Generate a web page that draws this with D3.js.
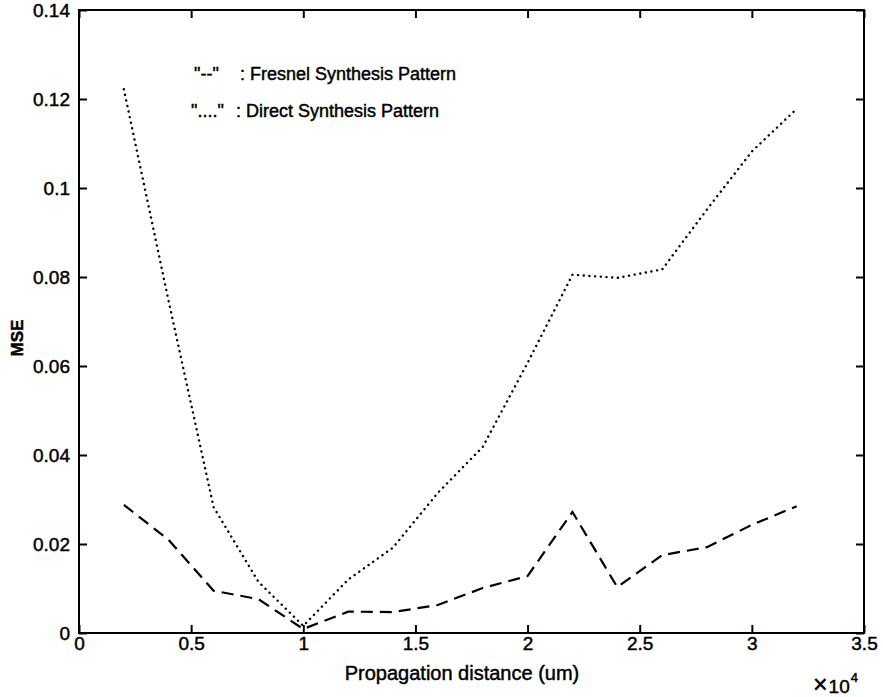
<!DOCTYPE html>
<html>
<head>
<meta charset="utf-8">
<script src="https://cdn.jsdelivr.net/npm/d3@7"></script>
<style>
  html, body { margin: 0; padding: 0; background: #fff; }
  text { font-family: "Liberation Sans", Arial, Helvetica, sans-serif; fill: #000; stroke: #000; stroke-width: 0.45px; }
</style>
</head>
<body>
<svg id="chart" width="883" height="697"></svg>
<script>
// Propagation distance (x 10^4 um)
const distance = [0.2, 0.4, 0.6, 0.8, 1.0, 1.2, 1.4, 1.6, 1.8, 2.0, 2.2, 2.4, 2.6, 2.8, 3.0, 3.2];
// "--" : Fresnel Synthesis Pattern
const fresnelMSE = [0.0288, 0.0209, 0.0095, 0.0076, 0.0009, 0.0048, 0.0047, 0.0063, 0.0101, 0.0128, 0.0272, 0.0103, 0.0175, 0.0193, 0.0243, 0.0285];
// "...." : Direct Synthesis Pattern
const directMSE = [0.1222, 0.0745, 0.0283, 0.0115, 0.0016, 0.0120, 0.0192, 0.0315, 0.0418, 0.0607, 0.0805, 0.0798, 0.0817, 0.0952, 0.1082, 0.1178];
const xTicks = [0, 0.5, 1, 1.5, 2, 2.5, 3, 3.5];
const yTicks = [0, 0.02, 0.04, 0.06, 0.08, 0.1, 0.12, 0.14];
const xTickLabels = ["0", "0.5", "1", "1.5", "2", "2.5", "3", "3.5"];
const yTickLabels = ["0", "0.02", "0.04", "0.06", "0.08", "0.1", "0.12", "0.14"];
const legendMarks = ['"--"', '"...."'];
const legendLabels = [": Fresnel Synthesis Pattern", ": Direct Synthesis Pattern"];

const svg = d3.select("#chart");
const L = 79, R = 864, T = 10, B = 633;
const x = d3.scaleLinear().domain([0, 3.5]).range([L, R]);
const y = d3.scaleLinear().domain([0, 0.14]).range([B, T]);
const fs = 19;

// Axes with inward ticks
const tickLen = 8;
svg.append("g").attr("transform", `translate(0,${B})`)
  .call(d3.axisBottom(x).tickValues(xTicks).tickSizeInner(-tickLen).tickSizeOuter(0).tickPadding(3)
    .tickFormat((d, i) => xTickLabels[i]));
svg.append("g").attr("transform", `translate(0,${T})`)
  .call(d3.axisTop(x).tickValues(xTicks).tickSizeInner(-tickLen).tickSizeOuter(0).tickFormat(""));
svg.append("g").attr("transform", `translate(${L},0)`)
  .call(d3.axisLeft(y).tickValues(yTicks).tickSizeInner(-tickLen).tickSizeOuter(0).tickPadding(9)
    .tickFormat((d, i) => yTickLabels[i]));
svg.append("g").attr("transform", `translate(${R},0)`)
  .call(d3.axisRight(y).tickValues(yTicks).tickSizeInner(-tickLen).tickSizeOuter(0).tickFormat(""));

svg.selectAll(".domain").remove();
svg.selectAll(".tick line").attr("stroke", "#000").attr("stroke-width", 2);
svg.selectAll(".tick text").attr("font-size", fs).attr("font-family", '"Liberation Sans", Arial, sans-serif');

// Frame
svg.append("rect").attr("x", L).attr("y", T).attr("width", R - L).attr("height", B - T)
  .attr("fill", "none").attr("stroke", "#000").attr("stroke-width", 2);

// Lines
const line = d3.line().x(d => x(d[0])).y(d => y(d[1]));
svg.append("path").datum(distance.map((d, i) => [d, fresnelMSE[i]]))
  .attr("d", line).attr("fill", "none").attr("stroke", "#000").attr("stroke-width", 2.2)
  .attr("stroke-dasharray", "12,7");
svg.append("path").datum(distance.map((d, i) => [d, directMSE[i]]))
  .attr("d", line).attr("fill", "none").attr("stroke", "#000").attr("stroke-width", 2.4)
  .attr("stroke-linecap", "round").attr("stroke-dasharray", "0.1,5.6");

// Axis titles
svg.append("text").attr("x", 462).attr("y", 680).attr("text-anchor", "middle")
  .attr("font-size", 20).text("Propagation distance (um)");
svg.append("text").attr("transform", `translate(23,338) rotate(-90)`).attr("text-anchor", "middle")
  .attr("font-size", 17).attr("font-weight", "bold").text("MSE");
const ex = svg.append("text").attr("x", 813).attr("y", 693).attr("font-size", fs);
ex.append("tspan").attr("font-size", 25).text("\u00d7");
ex.append("tspan").attr("dx", 1).text("10");
ex.append("tspan").attr("font-size", 13).attr("dy", -11).attr("dx", 1).text("4");

// Legend
const legY = [80, 117];
const markX = [194, 191];
const labX = [240, 236];
legendMarks.forEach((m, i) => {
  svg.append("text").attr("x", markX[i]).attr("y", legY[i]).attr("font-size", 18).text(m);
  svg.append("text").attr("x", labX[i]).attr("y", legY[i]).attr("font-size", 18).text(legendLabels[i]);
});
</script>
</body>
</html>
